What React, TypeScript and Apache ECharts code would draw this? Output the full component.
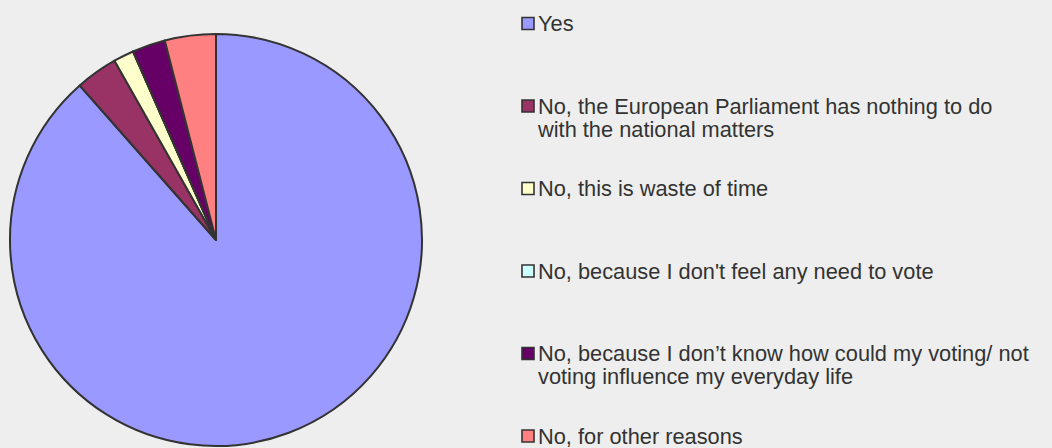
import React, { useEffect, useRef } from "react";
import * as echarts from "echarts";

const categories = [
  "Yes",
  "No, the European Parliament has nothing to do\nwith the national matters",
  "No, this is waste of time",
  "No, because I don't feel any need to vote",
  "No, because I don\u2019t know how could my voting/ not\nvoting influence my everyday life",
  "No, for other reasons",
];
const values = [88.5, 3.3, 1.6, 0, 2.6, 4.0];
const colors = ["#9999FF", "#993366", "#FFFFCC", "#CCFFFF", "#660066", "#FF8080"];

export default function App() {
  const ref = useRef<HTMLDivElement>(null);
  useEffect(() => {
    if (!ref.current) return;
    const chart = echarts.init(ref.current, null, { renderer: "svg" });
    const graphics: any[] = [];
    categories.forEach((c, i) => {
      const cy = 23.5 + i * 82.5;
      graphics.push({
        type: "rect",
        shape: { x: 522, y: cy - 6, width: 12, height: 12 },
        style: { fill: colors[i], stroke: "#333333", lineWidth: 1.6 },
        silent: true,
      });
      graphics.push({
        type: "text",
        x: 538,
        y: cy - 11.5,
        style: {
          text: c,
          fill: "#333333",
          font: '21.8px "Liberation Sans", Arial, sans-serif',
          lineHeight: 23,
          verticalAlign: "top",
          align: "left",
        },
        silent: true,
      });
    });
    chart.setOption({
      animation: false,
      backgroundColor: "#EEEEEE",
      graphic: graphics,
      series: [
        {
          type: "pie",
          center: [216, 240],
          radius: 206,
          startAngle: 90,
          clockwise: true,
          label: { show: false },
          labelLine: { show: false },
          emphasis: { disabled: true },
          silent: true,
          itemStyle: { borderColor: "#333333", borderWidth: 2 },
          data: categories.map((c, i) => ({
            name: c,
            value: values[i],
            itemStyle: { color: colors[i] },
          })),
        },
      ],
    });
    return () => chart.dispose();
  }, []);
  return (
    <div
      ref={ref}
      style={{ position: "fixed", left: 0, top: 0, width: 1052, height: 448 }}
    />
  );
}
